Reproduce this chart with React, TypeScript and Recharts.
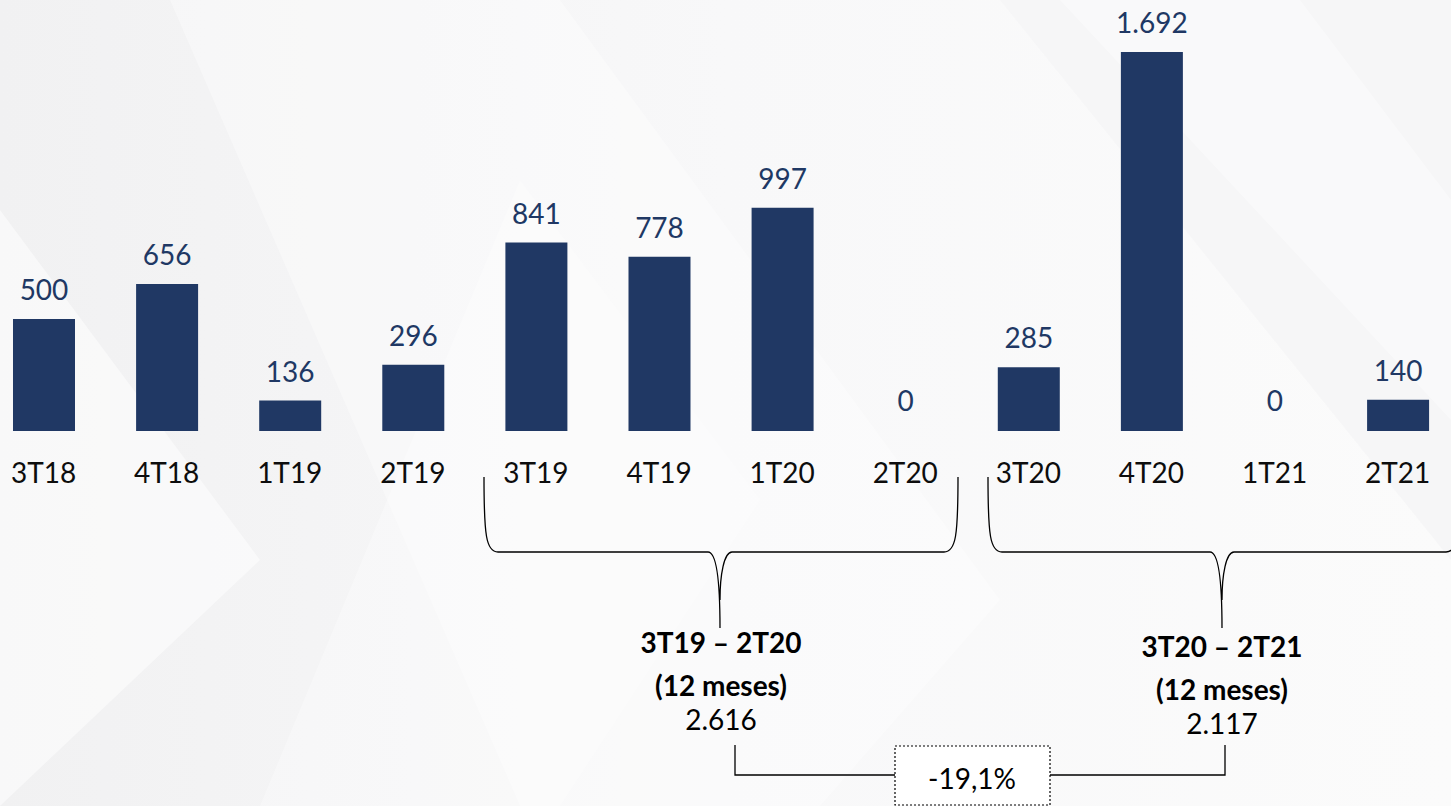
import { BarChart, Bar, XAxis, YAxis, LabelList, Cell } from 'recharts'

const categories = ['3T18', '4T18', '1T19', '2T19', '3T19', '4T19', '1T20', '2T20', '3T20', '4T20', '1T21', '2T21']
const values = [500, 656, 136, 296, 841, 778, 997, 0, 285, 1692, 0, 140]

const periodLabels = ['3T19 – 2T20', '3T20 – 2T21']
const periodSub = '(12 meses)'
const periodTotals = ['2.616', '2.117']
const periodChange = '-19,1%'

const FONT = 'Lato, "Open Sans", sans-serif'
const NAVY = '#203864'
const BAND = 123.1
const FIRST_CENTER = 44

const fmt = (v: number) =>
  v >= 1000 ? `${Math.floor(v / 1000)}.${String(v % 1000).padStart(3, '0')}` : String(v)

const data = categories.map((name, i) => ({ name, value: values[i] }))

function Background() {
  return (
    <svg width={1451} height={806} style={{ position: 'absolute', left: 0, top: 0 }}>
      <defs>
        <linearGradient id="bg" x1="0" y1="0" x2="1" y2="0">
          <stop offset="0" stopColor="#f1f1f2" />
          <stop offset="0.5" stopColor="#f8f8f9" />
          <stop offset="1" stopColor="#fbfbfb" />
        </linearGradient>
      </defs>
      <rect width={1451} height={806} fill="url(#bg)" />
      <polygon points="170,0 560,0 1000,600 820,806 520,806" fill="#ffffff" opacity={0.35} />
      <polygon points="0,210 260,560 0,806" fill="#ffffff" opacity={0.5} />
      <polygon points="520,180 760,500 560,806 260,806" fill="#ffffff" opacity={0.3} />
      <polygon points="1000,0 1451,0 1451,560" fill="#f4f4f5" opacity={0.6} />
      <polygon points="1060,0 1300,0 1451,200 1451,420" fill="#ffffff" opacity={0.4} />
    </svg>
  )
}

function Annotations() {
  const bracketA = 'M484,477 C484,535 486,552 498,552 L708,552 C716,552 720,575 720,628 M720,600 C720,575 724,552 732,552 L944,552 C956,552 958,535 958,477'
  const bracketB = 'M988,477 C988,535 990,552 1002,552 L1210,552 C1218,552 1222,575 1222,628 M1222,600 C1222,575 1226,552 1234,552 L1446,552 C1458,552 1460,535 1460,477'
  const centers = [721, 1222]
  const dy = [0, 4]
  return (
    <svg width={1451} height={806} style={{ position: 'absolute', left: 0, top: 0, pointerEvents: 'none' }}>
      <path d={bracketA} fill="none" stroke="#000" strokeWidth={1.3} />
      <path d={bracketB} fill="none" stroke="#000" strokeWidth={1.3} />
      {centers.map((cx, i) => (
        <g key={i} fontFamily={FONT} fontSize={28} fill="#000" textAnchor="middle">
          <text x={cx} y={653 + dy[i]} fontWeight={700}>{periodLabels[i]}</text>
          <text x={cx} y={696 + dy[i]} fontWeight={700}>{periodSub}</text>
          <text x={cx} y={730 + dy[i]}>{periodTotals[i]}</text>
        </g>
      ))}
      <path d="M735,745 L735,775 L895,775 M1050,775 L1225,775 L1225,745" fill="none" stroke="#000" strokeWidth={1.3} />
      <rect x={895} y={746} width={155} height={59} fill="#fff" stroke="#000" strokeWidth={1.2} strokeDasharray="2 2" />
      <text x={972} y={789} fontFamily={FONT} fontSize={28} fill="#000" textAnchor="middle">{periodChange}</text>
    </svg>
  )
}

export default function App() {
  const chartLeft = FIRST_CENTER - BAND / 2
  const chartWidth = BAND * categories.length
  return (
    <div style={{ position: 'absolute', left: 0, top: 0, width: 1451, height: 806, overflow: 'hidden' }}>
      <Background />
      <div style={{ position: 'absolute', left: chartLeft, top: 0 }}>
        <BarChart width={chartWidth} height={806} data={data} margin={{ top: 0, right: 0, left: 0, bottom: 345 }}>
          <XAxis
            dataKey="name"
            axisLine={false}
            tickLine={false}
            interval={0}
            height={30}
            tickMargin={26}
            tick={{ fill: '#0d0d0d', fontSize: 28, fontFamily: FONT }}
          />
          <YAxis hide domain={[0, 1924]} />
          {/* minPointSize keeps zero bars (transparent) so their "0" label still shows */}
          <Bar dataKey="value" fill={NAVY} barSize={62} minPointSize={1} isAnimationActive={false}>
            {data.map((d, i) => (
              <Cell key={i} fill={d.value === 0 ? 'transparent' : NAVY} />
            ))}
            <LabelList
              dataKey="value"
              position="top"
              offset={19}
              formatter={(v: any) => fmt(Number(v))}
              style={{ fill: NAVY, fontSize: 28, fontFamily: FONT }}
            />
          </Bar>
        </BarChart>
      </div>
      <Annotations />
    </div>
  )
}
